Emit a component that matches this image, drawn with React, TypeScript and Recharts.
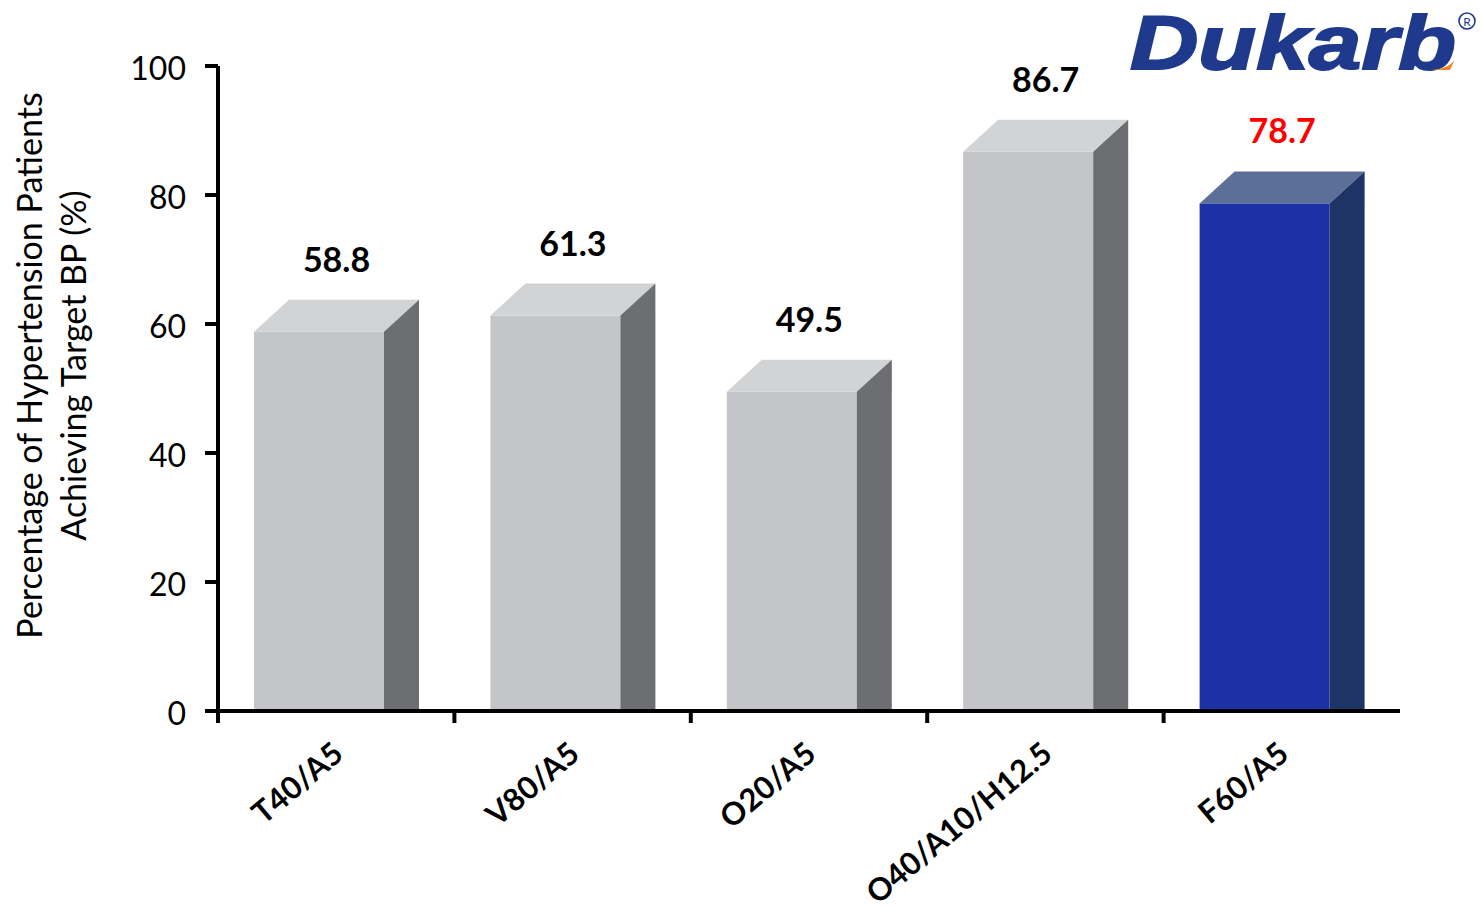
import React from "react";
import { BarChart, Bar, XAxis, YAxis, LabelList } from "recharts";

const categories = ["T40/A5", "V80/A5", "O20/A5", "O40/A10/H12.5", "F60/A5"];
const values = [58.8, 61.3, 49.5, 86.7, 78.7];
const yTicks = [0, 20, 40, 60, 80, 100];
const highlight = "F60/A5";
const yLabelLines = ["Percentage of Hypertension Patients", "Achieving Target BP (%)"];

const data = categories.map((name, i) => ({ name, value: values[i] }));

const CHART_W = 1482;
const CHART_H = 921;
const MARGIN = { top: 66, right: 82, bottom: 60, left: 0 };
const Y_AXIS_W = 218;
const X_AXIS_H = 150;
const BAND = (CHART_W - MARGIN.left - MARGIN.right - Y_AXIS_W) / categories.length;
const DEPTH_X = 35;
const DEPTH_Y = 32;
const FONT = "Lato, 'Open Sans', sans-serif";

const GRAY = { front: "#c4c5c8", top: "#d2d3d5", side: "#6d6e72" };
const BLUE = { front: "#1d31a7", top: "#5c6f99", side: "#1e3366" };

const Bar3D = (props: any) => {
  const { x, y, width, height, payload } = props;
  if (height == null || width == null) return null;
  const c = payload.name === highlight ? BLUE : GRAY;
  const fw = width - DEPTH_X;
  const bottom = y + height;
  return (
    <g>
      <rect x={x} y={y} width={fw} height={height} fill={c.front} />
      <polygon
        points={`${x},${y} ${x + DEPTH_X},${y - DEPTH_Y} ${x + fw + DEPTH_X},${y - DEPTH_Y} ${x + fw},${y}`}
        fill={c.top}
      />
      <polygon
        points={`${x + fw},${y} ${x + fw + DEPTH_X},${y - DEPTH_Y} ${x + fw + DEPTH_X},${bottom} ${x + fw},${bottom}`}
        fill={c.side}
      />
    </g>
  );
};

const XTick = (props: any) => {
  const { x, y, payload } = props;
  const ax = x + 9;
  const ay = y + 46;
  return (
    <g>
      <line x1={x - BAND / 2} x2={x - BAND / 2} y1={y - 2} y2={y + 12} stroke="#000" strokeWidth={4} />
      <text
        x={ax}
        y={ay}
        transform={`rotate(-40, ${ax}, ${ay})`}
        textAnchor="end"
        fontFamily={FONT}
        fontWeight={700}
        fontSize={31}
        fill="#000"
      >
        {payload.value}
      </text>
    </g>
  );
};

const ValueLabel = (props: any) => {
  const { x, y, width, value, index } = props;
  const color = categories[index] === highlight ? "#ff0000" : "#000";
  return (
    <text
      x={x + width / 2}
      y={y - DEPTH_Y - 28}
      textAnchor="middle"
      fontFamily={FONT}
      fontWeight={700}
      fontSize={34}
      fill={color}
    >
      {value}
    </text>
  );
};

const YLabel = (props: any) => {
  const vb = props.viewBox || {};
  const cy = vb.y + vb.height / 2 - 23;
  const x1 = vb.x + 42;
  const x2 = vb.x + 86;
  return (
    <g>
      <text x={x1} y={cy} transform={`rotate(-90, ${x1}, ${cy})`} textAnchor="middle" fontFamily={FONT} fontSize={34} fill="#000">
        {yLabelLines[0]}
      </text>
      <text x={x2} y={cy} transform={`rotate(-90, ${x2}, ${cy})`} textAnchor="middle" fontFamily={FONT} fontSize={34} fill="#000">
        {yLabelLines[1]}
      </text>
    </g>
  );
};

const YTick = (props: any) => {
  const { x, y, payload } = props;
  return (
    <text x={x} y={y + 3} dy="0.355em" textAnchor="end" fontFamily={FONT} fontSize={32} fill="#000">
      {payload.value}
    </text>
  );
};

const Logo = () => (
  <svg width={CHART_W} height={100} style={{ position: "absolute", left: 0, top: 0 }}>
    <text
      x={1130}
      y={69}
      fontFamily="'Liberation Sans', Arial, sans-serif"
      fontWeight={700}
      fontStyle="italic"
      fontSize={76}
      fill="#1f3a8c"
      stroke="#1f3a8c"
      strokeWidth={2}
      textLength={326}
      lengthAdjust="spacingAndGlyphs"
    >
      Dukarb
    </text>
    <path d="M1456,57 Q1452,68 1432,70 L1450,70 Z" fill="#f58220" />
    <circle cx={1467} cy={21} r={8} fill="none" stroke="#1f3a8c" strokeWidth={1.6} />
    <text x={1467} y={26} textAnchor="middle" fontFamily="Lato, sans-serif" fontSize={12} fill="#1f3a8c">R</text>
  </svg>
);

export default function App() {
  return (
    <div style={{ position: "absolute", left: 0, top: 0, width: CHART_W, height: CHART_H, background: "#fff" }}>
      <BarChart width={CHART_W} height={CHART_H} data={data} margin={MARGIN}>
        <XAxis
          dataKey="name"
          height={X_AXIS_H}
          interval={0}
          axisLine={{ stroke: "#000", strokeWidth: 4 }}
          tickLine={false}
          tickSize={0}
          tickMargin={0}
          tick={<XTick />}
        />
        <YAxis
          width={Y_AXIS_W}
          domain={[0, 100]}
          ticks={yTicks}
          interval={0}
          axisLine={{ stroke: "#000", strokeWidth: 4 }}
          tickLine={{ stroke: "#000", strokeWidth: 4 }}
          tickSize={13}
          tickMargin={19}
          tick={<YTick />}
          label={<YLabel />}
        />
        <Bar dataKey="value" barSize={165} shape={<Bar3D />} isAnimationActive={false}>
          <LabelList dataKey="value" content={<ValueLabel />} />
        </Bar>
      </BarChart>
      <Logo />
    </div>
  );
}
